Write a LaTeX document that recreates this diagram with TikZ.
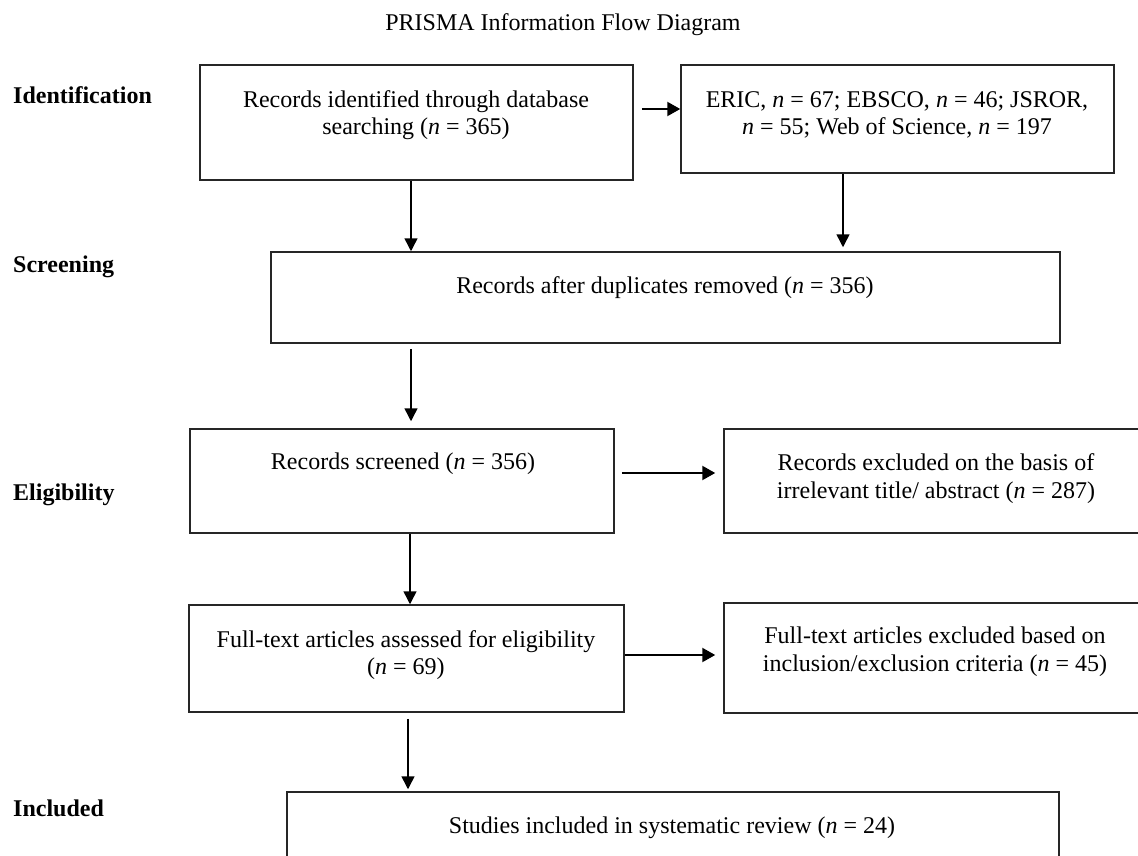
\documentclass[tikz,border=0pt]{standalone}
\usepackage{fontspec}
\setmainfont{Liberation Serif}
\usetikzlibrary{arrows.meta}
\begin{document}
\begin{tikzpicture}[x=1pt,y=-1pt,
  box/.style={draw=black!85, line width=1.5pt, rectangle, inner sep=0pt},
  txt/.style={font=\fontsize{24}{27.6}\selectfont, align=center, inner sep=0pt},
  stage/.style={font=\fontsize{24}{27.6}\selectfont\bfseries, anchor=west, inner sep=0pt},
  vline/.style={line width=1.5pt, -{Triangle[length=13pt,width=13pt]}},
  hline/.style={line width=2.2pt, -{Triangle[length=13pt,width=14pt]}},
]
\useasboundingbox (0,0) rectangle (1138,856);
\clip (0,0) rectangle (1138,856);

\node[txt] (title) at (563,25) {PRISMA Information Flow Diagram};

\node[stage] (sid) at (13,95) {Identification};
\node[stage] (ssc) at (13,267) {Screening};
\node[stage] (sel) at (13,495) {Eligibility};
\node[stage] (sin) at (13,808) {Included};

\node[box, minimum width=433pt, minimum height=115pt] (b1) at (416.5,122.5) {};
\node[box, minimum width=433pt, minimum height=108pt] (b2) at (897.5,119) {};
\node[box, minimum width=789pt, minimum height=91pt] (b3) at (665.5,297.5) {};
\node[box, minimum width=424pt, minimum height=104pt] (b4) at (402,481) {};
\node[box, minimum width=424pt, minimum height=104pt] (b5) at (936,481) {};
\node[box, minimum width=435pt, minimum height=107pt] (b6) at (406.5,658.5) {};
\node[box, minimum width=424pt, minimum height=110pt] (b7) at (936,658) {};
\node[box, minimum width=772pt, minimum height=70pt] (b8) at (673,827) {};

\node[txt] (t1) at (416,115) {Records identified through database\\searching (\textit{n} = 365)};
\node[txt] (t2) at (897,115) {ERIC, \textit{n} = 67; EBSCO, \textit{n} = 46; JSROR,\\\textit{n} = 55; Web of Science, \textit{n} = 197};
\node[txt] (t3) at (665,288) {Records after duplicates removed (\textit{n} = 356)};
\node[txt] (t4) at (403,464) {Records screened (\textit{n} = 356)};
\node[txt] (t5) at (936,478.5) {Records excluded on the basis of\\irrelevant title/ abstract (\textit{n} = 287)};
\node[txt] (t6) at (406,655) {Full-text articles assessed for eligibility\\(\textit{n} = 69)};
\node[txt] (t7) at (935,652) {Full-text articles excluded based on\\inclusion/exclusion criteria (\textit{n} = 45)};
\node[txt] (t8) at (672,828) {Studies included in systematic review (\textit{n} = 24)};

\coordinate (xa) at (411,0);
\coordinate (xb) at (843,0);
\coordinate (xc) at (410,0);
\coordinate (xd) at (408,0);
\coordinate (ya) at (0,109);
\coordinate (yb) at (0,473);
\coordinate (yc) at (0,655);

\draw[vline] (b1.south -| xa) -- (b3.north -| xa);
\draw[vline, shorten >=4pt] (b2.south -| xb) -- (b3.north -| xb);
\draw[vline, shorten <=5pt, shorten >=7pt] (b3.south -| xa) -- (b4.north -| xa);
\draw[vline] (b4.south -| xc) -- (b6.north -| xc);
\draw[vline, shorten <=6pt, shorten >=2pt] (b6.south -| xd) -- (b8.north -| xd);

\draw[hline, shorten <=8pt] (b1.east |- ya) -- (b2.west |- ya);
\draw[hline, shorten <=7pt, shorten >=8pt] (b4.east |- yb) -- (b5.west |- yb);
\draw[hline, shorten >=8pt] (b6.east |- yc) -- (b7.west |- yc);
\end{tikzpicture}
\end{document}
